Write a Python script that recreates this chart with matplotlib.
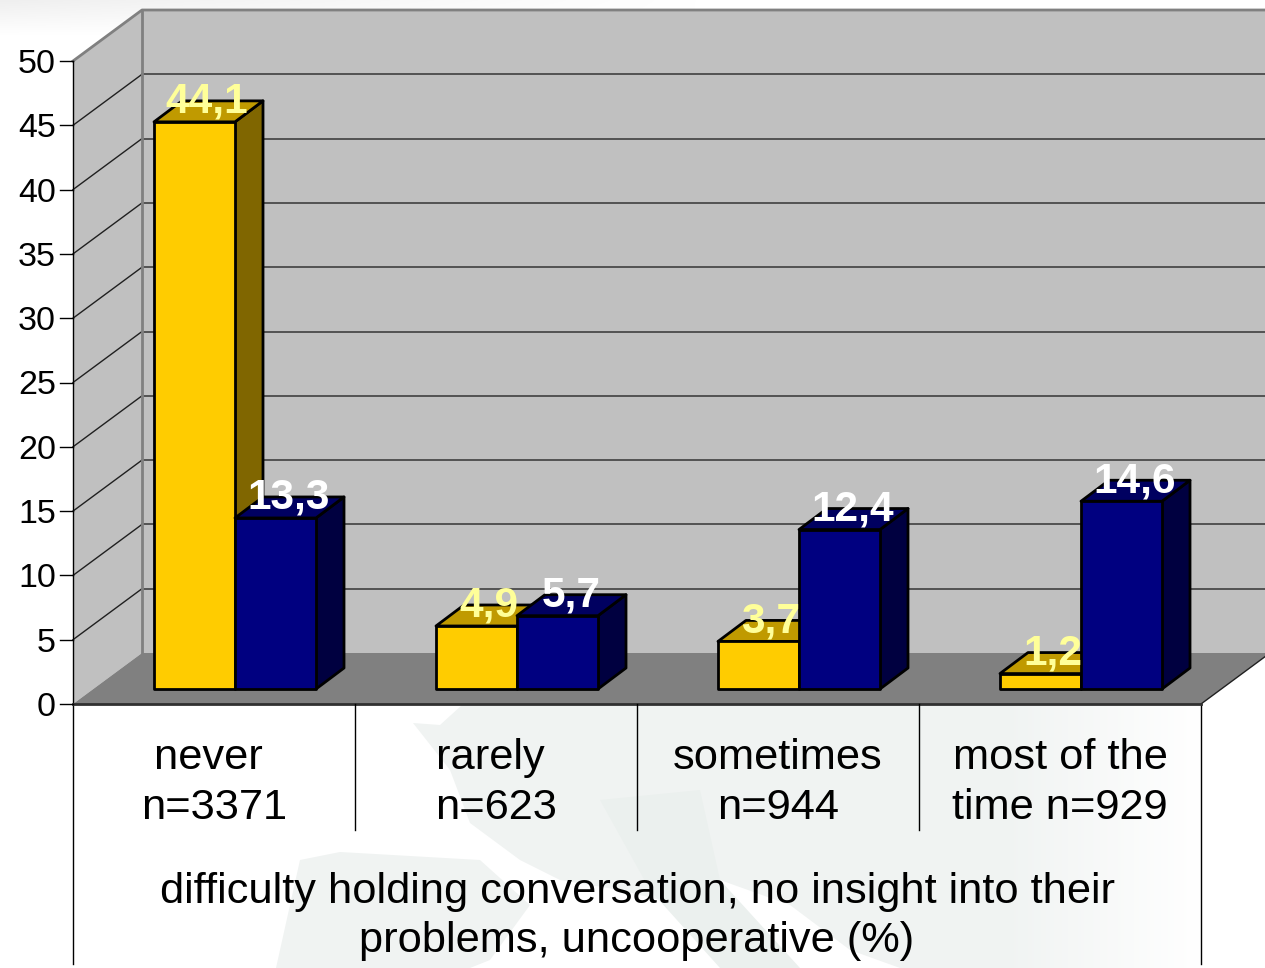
import numpy as np
import matplotlib
matplotlib.use("Agg")
import matplotlib.pyplot as plt

plt.rcParams['font.family'] = ['Liberation Sans', 'DejaVu Sans']

# values
categories = ["never \nn=3371", "rarely \nn=623", "sometimes\nn=944", "most of the\ntime n=929"]
yellow_values = [44.1, 4.9, 3.7, 1.2]
blue_values = [13.3, 5.7, 12.4, 14.6]
yellow_labels = ["44,1", "4,9", "3,7", "1,2"]
blue_labels = ["13,3", "5,7", "12,4", "14,6"]
y_ticks = [0, 5, 10, 15, 20, 25, 30, 35, 40, 45, 50]
x_title = "difficulty holding conversation, no insight into their\nproblems, uncooperative (%)"

W, H = 1265, 968
CAT_PX = 282.0    # pixels per category
VAL_PX = 12.86    # pixels per percent
X0_PX = 73.0
Y0_PX = 704.0

# depth of the fake 3d, in data units
wall_dx = 69 / CAT_PX
wall_dy = 51 / VAL_PX
bar_dx = 28 / CAT_PX
bar_dy = 21 / VAL_PX
bar_lift = 15 / VAL_PX
bar_gap = 81 / CAT_PX
bar_w = 81 / CAT_PX

fig = plt.figure(figsize=(W / 100, H / 100), dpi=100, facecolor="white")

# faint map behind the chart, pixel space
bg = fig.add_axes([0, 0, 1, 1])
bg.set_xlim(0, W)
bg.set_ylim(H, 0)
bg.axis("off")
land = "#f0f3f2"
land2 = "#ebf0ee"
bg.fill([413, 440, 462, 1265, 1265, 900, 850, 790, 720, 697, 690, 660, 620, 560, 520, 470, 450],
        [723, 725, 705, 705, 968, 968, 950, 905, 880, 843, 885, 900, 890, 880, 860, 823, 770],
        color=land, lw=0)
bg.fill([276, 300, 340, 480, 530, 490, 470], [968, 860, 852, 860, 905, 960, 968], color=land, lw=0)
bg.fill([600, 700, 720, 800, 720, 650], [800, 790, 880, 968, 968, 890], color=land2, lw=0)

# fades: map to white on the right, pale band along the top
fade = np.zeros((1, 256, 4))
fade[..., :3] = 1
fade[..., 3] = np.linspace(0, 1, 256)
bg.imshow(fade, extent=[1000, 1200, H, 0], aspect="auto", zorder=2)
bg.fill([1200, W, W, 1200], [0, 0, H, H], color="white", lw=0, zorder=3)
band = np.zeros((64, 256, 4))
band[..., :3] = 0.94
band[..., 3] = np.outer(np.linspace(1, 0, 64), np.linspace(1, 0, 256))
bg.imshow(band, extent=[0, 700, 35, 0], aspect="auto", zorder=2)
bg.set_xlim(0, W)
bg.set_ylim(H, 0)

ax = fig.add_axes([0, 0, 1, 1])
ax.patch.set_alpha(0)
ax.set_xlim(-X0_PX / CAT_PX, (W - X0_PX) / CAT_PX)
ax.set_ylim(-(H - Y0_PX) / VAL_PX, Y0_PX / VAL_PX)
ax.axis("off")

n = len(categories)
top = y_ticks[-1]
far = n + wall_dx + 0.3

# back wall, side wall, floor
ax.fill([wall_dx, far, far, wall_dx], [wall_dy, wall_dy, top + wall_dy, top + wall_dy],
        color="#c0c0c0", lw=0, zorder=1)
ax.fill([0, wall_dx, wall_dx, 0], [0, wall_dy, top + wall_dy, top], color="#c0c0c0", lw=0, zorder=1)
ax.fill([0, n, n + wall_dx, wall_dx], [0, 0, wall_dy, wall_dy], color="#808080", lw=0, zorder=1)

# gridlines
for t in y_ticks[1:-1]:
    ax.plot([0, wall_dx], [t, t + wall_dy], color="#202020", lw=1, zorder=2)
    ax.plot([wall_dx, far], [t + wall_dy, t + wall_dy], color="#404040", lw=1.2, zorder=2)
ax.plot([0, wall_dx, far], [top, top + wall_dy, top + wall_dy], color="#808080", lw=2, zorder=2)
ax.plot([wall_dx, wall_dx], [wall_dy, top + wall_dy], color="#808080", lw=2, zorder=2)
ax.plot([n, n + wall_dx], [0, wall_dy], color="#202020", lw=1, zorder=2)

# axis lines, ticks, separators
ax.plot([0, 0], [-260 / VAL_PX, top], color="black", lw=1, zorder=3)
ax.plot([n, n], [-260 / VAL_PX, 0], color="black", lw=1, zorder=3)
ax.plot([0, n], [0, 0], color="#303030", lw=2, zorder=3)
for i in range(1, n):
    ax.plot([i, i], [-126 / VAL_PX, 0], color="black", lw=1, zorder=3)
for t in y_ticks:
    ax.plot([-13 / CAT_PX, 0], [t, t], color="black", lw=1, zorder=3)
    ax.text(-17 / CAT_PX, t - 3.5 / VAL_PX, str(t), ha="right", va="center", fontsize=24.5, color="black", zorder=3)


def bar3d(x, v, front, side, lid, z):
    y0 = bar_lift
    y1 = bar_lift + v
    x1 = x + bar_w
    kw = dict(edgecolor="black", lw=2, joinstyle="round", zorder=z)
    ax.fill([x1, x1 + bar_dx, x1 + bar_dx, x1], [y0, y0 + bar_dy, y1 + bar_dy, y1], facecolor=side, **kw)
    ax.fill([x, x1, x1 + bar_dx, x + bar_dx], [y1, y1, y1 + bar_dy, y1 + bar_dy], facecolor=lid, **kw)
    ax.fill([x, x1, x1, x], [y0, y0, y1, y1], facecolor=front, **kw)


for i in range(n):
    x = i + bar_gap
    bar3d(x, yellow_values[i], "#ffcc00", "#806600", "#c09a00", 4)
    bar3d(x + bar_w, blue_values[i], "#000080", "#000040", "#000060", 5)
    ax.text(x + (bar_w + bar_dx) / 2 - 2 / CAT_PX, yellow_values[i] + bar_lift + bar_dy - 1 / VAL_PX, yellow_labels[i],
            ha="center", va="center", fontsize=30.5, fontweight="bold", color="#ffff99", zorder=6)
    ax.text(x + bar_w + (bar_w + bar_dx) / 2 - 0.5 / CAT_PX, blue_values[i] + bar_lift + bar_dy - 1 / VAL_PX, blue_labels[i],
            ha="center", va="center", fontsize=30.5, fontweight="bold", color="white", zorder=6)
    ax.text(i + 0.5, -79 / VAL_PX, categories[i], ha="center", va="center", multialignment="center",
            fontsize=31.2, color="black", linespacing=1.3, zorder=6)

ax.text(n / 2, -212.5 / VAL_PX, x_title, ha="center", va="center", multialignment="center",
        fontsize=31.2, color="black", linespacing=1.3, zorder=6)

fig.savefig("out.png", dpi=100, facecolor="white")
